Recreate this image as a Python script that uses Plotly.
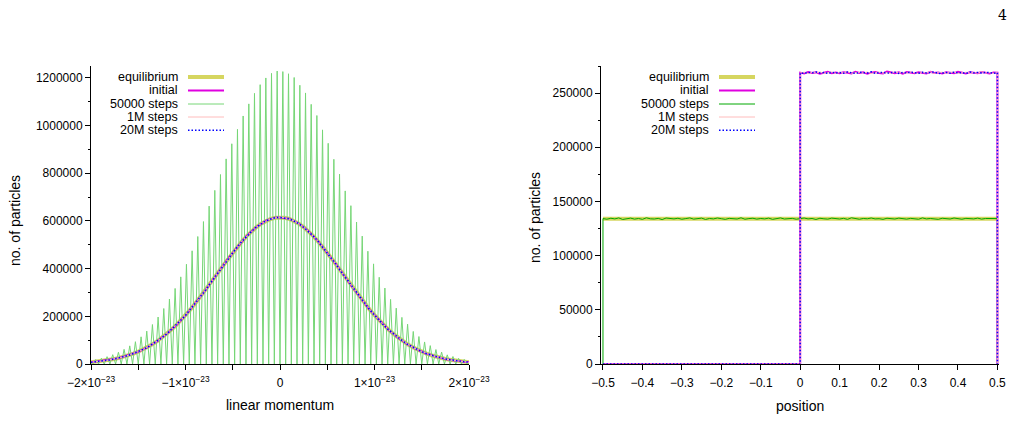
import numpy as np
import plotly.graph_objects as go

W, H = 1012, 442

# ---------------- left panel: linear momentum (x in units of 1e-23) ----------------
MOM_X = np.round(np.arange(-2.0, 2.0 + 1e-9, 0.05), 2)  # 81 bin centres

MOM_EQ = [7500, 9400, 11600, 14200, 17400, 21100, 25600, 30700, 36800, 43700, 51700, 60800, 71100, 82700,
          95700, 110200, 126100, 143500, 162400, 182800, 204600, 227800, 252200, 277700, 304100, 331100,
          358600, 386300, 413800, 440900, 467100, 492100, 515700, 537400, 557000, 574100, 588500, 600000,
          608300, 613300, 615000, 613300, 608300, 600000, 588500, 574100, 557000, 537400, 515700, 492100,
          467100, 440900, 413800, 386300, 358600, 331100, 304100, 277700, 252200, 227800, 204600, 182800,
          162400, 143500, 126100, 110200, 95700, 82700, 71100, 60800, 51700, 43700, 36800, 30700, 25600,
          21100, 17400, 14200, 11600, 9400, 7500]

MOM_INIT = [7200, 9900, 11100, 14800, 16900, 21700, 25100, 31300, 36200, 44400, 51100, 61500, 70400, 83500,
            95000, 110900, 125400, 144300, 161700, 183600, 203800, 228600, 251400, 278500, 303300, 331900,
            357800, 387100, 413000, 441700, 466300, 492900, 514900, 538200, 556200, 574900, 587700, 600800,
            607500, 614100, 614200, 612500, 609100, 599200, 589300, 573300, 557800, 536600, 516500, 491300,
            467900, 440100, 414600, 385500, 359400, 330300, 304900, 276900, 253000, 227000, 205400, 182000,
            163200, 142700, 126900, 109400, 96500, 81900, 71900, 60000, 52500, 42900, 37600, 29900, 26400,
            20300, 18200, 13400, 12400, 8600, 8300]

MOM_1M = [7700, 9100, 12000, 13900, 17800, 20800, 25900, 30400, 37100, 43300, 52100, 60400, 71500, 82300,
          96100, 109800, 126600, 143000, 162900, 182300, 205100, 227300, 252700, 277200, 304600, 330600,
          359100, 385800, 414300, 440400, 467600, 491600, 516200, 536900, 557500, 573600, 589000, 599500,
          608800, 612800, 615500, 613800, 607800, 600500, 588000, 574600, 556500, 537900, 515200, 492600,
          466600, 441400, 413300, 386800, 358100, 331600, 303600, 278200, 251700, 228300, 204100, 183300,
          161900, 144000, 125600, 110700, 95200, 83200, 70600, 61300, 51200, 44200, 36300, 31200, 25100,
          21600, 16900, 14700, 11100, 9900, 7000]

MOM_20M = [7400, 9600, 11400, 14500, 17100, 21400, 25400, 31000, 36500, 44000, 51400, 61100, 70800, 83100,
           95400, 110500, 125800, 143900, 162100, 183200, 204200, 228200, 251800, 278100, 303700, 331500,
           358200, 386700, 413400, 441300, 466700, 492500, 515300, 537800, 556600, 574500, 588100, 600400,
           607900, 613700, 614600, 612900, 608700, 599600, 588900, 573700, 557400, 537000, 516100, 491700,
           467500, 440500, 414200, 385900, 359000, 330700, 304500, 277300, 252600, 227400, 205000, 182400,
           162800, 143100, 126500, 109800, 96100, 82300, 71500, 60400, 52100, 43300, 37100, 30400, 25900,
           20800, 17800, 13900, 12000, 9100, 7700]

# after 50000 steps only every other momentum bin is populated: occupied bins and their counts
MOM_50K_PEAK_X = np.round(np.arange(-1.95, 1.95 + 1e-9, 0.06), 2)  # 66 occupied bins
MOM_50K_PEAKS = [18700, 24100, 30800, 39100, 49200, 61500, 76100, 93600, 114000, 137900, 165500, 197000,
                 232700, 272600, 316900, 365500, 418300, 474800, 534700, 597400, 662300, 728300, 794700,
                 860300, 923800, 984300, 1040400, 1091100, 1135200, 1171700, 1199900, 1219100, 1228800,
                 1226500, 1217400, 1201800, 1169300, 1137000, 1089200, 1042300, 982100, 925700, 858600,
                 796300, 726100, 664100, 595600, 536400, 473100, 420000, 363800, 318500, 271000, 234300,
                 195500, 167000, 136500, 115200, 92500, 77000, 60600, 50000, 38400, 31400, 23600, 19100]
MOM_HALF_BIN = 0.03

# ---------------- right panel: position ----------------
POS_X = np.round(np.linspace(-0.5, 0.5, 101), 3)
POS_TOP_X = np.round(np.linspace(0.0, 0.5, 51), 3)
POS_EQ_LEVEL = 134000

POS_50K = [134200, 133600, 134500, 133900, 134800, 133400, 134100, 134600, 133700, 134300,
           133500, 134900, 134000, 133800, 134400, 133300, 134700, 134100, 133900, 134500,
           133600, 134200, 134800, 133700, 134000, 134600, 133400, 134300, 133900, 134700,
           134100, 133500, 134400, 134000, 133800, 134900, 133600, 134200, 134500, 133700,
           134300, 133900, 134600, 133500, 134100, 134800, 133800, 134000, 134400, 133600,
           134200, 134700, 133900, 134300, 133400, 134500, 134000, 133700, 134600, 134100,
           133800, 134400, 133500, 134900, 134200, 133600, 134300, 134000, 134700, 133900,
           134100, 133500, 134500, 134200, 133800, 134600, 134000, 133700, 134400, 134100,
           133600, 134800, 133900, 134300, 134000, 133500, 134500, 134200, 133800, 134700,
           134100, 133600, 134400, 134000, 133900, 134600, 133700, 134300, 134100, 133800, 134200]

POS_INIT = [268900, 268200, 269500, 268600, 269100, 267900, 268800, 269700, 268400, 269000,
            268300, 269300, 268700, 268100, 269600, 268500, 269200, 268000, 268900, 269400,
            268600, 268200, 269800, 268800, 268400, 269100, 268000, 269500, 268700, 268300,
            269200, 268900, 268100, 269600, 268500, 269000, 268200, 269300, 268800, 268400,
            269700, 268600, 268100, 269200, 268900, 268300, 269400, 268700, 268000, 269100, 268800]

POS_1M = [268500, 269300, 268000, 269000, 268700, 269600, 268200, 268800, 269400, 268100,
          269100, 268600, 269800, 268300, 268900, 269200, 268400, 269500, 268100, 268700,
          269300, 268500, 268900, 268200, 269700, 268600, 269000, 268300, 269400, 268800,
          268000, 269100, 268500, 269600, 268200, 268900, 269300, 268400, 268700, 269500,
          268100, 268800, 269200, 268600, 269000, 268300, 269700, 268500, 268900, 268200, 269000]

POS_20M = [268700, 268300, 269100, 268800, 269400, 268500, 268900, 268200, 269300, 268600,
           269000, 268400, 269500, 268700, 268100, 269200, 268800, 268500, 269600, 268300,
           268900, 269100, 268400, 268700, 269300, 268200, 269000, 268600, 269400, 268800,
           268300, 269200, 268500, 268900, 269500, 268100, 268700, 269100, 268400, 269300,
           268600, 268900, 268200, 269400, 268700, 269000, 268500, 269200, 268800, 268300, 268900]

SERIES = ["equilibrium", "initial", "50000 steps", "1M steps", "20M steps"]

C_EQ = "rgb(214,214,96)"
C_INIT = "rgb(224,0,224)"
C_50K_L = "rgb(118,214,118)"
C_50K_R = "rgb(0,168,0)"
C_1M = "rgb(255,188,188)"
C_20M = "rgb(0,0,255)"
DOT = "1.5px,2px"
FONT = "Liberation Sans, Arial, Helvetica, sans-serif"

fig = go.Figure()

# ---- left traces ----
mx = MOM_X * 1e-23
fig.add_trace(go.Scatter(x=mx, y=MOM_EQ, mode="lines", line=dict(color=C_EQ, width=4),
                         xaxis="x", yaxis="y", showlegend=False))
fig.add_trace(go.Scatter(x=mx, y=MOM_INIT, mode="lines", line=dict(color=C_INIT, width=2),
                         xaxis="x", yaxis="y", showlegend=False))
gx, gy = [-2.0], [0]
for px, pv in zip(MOM_50K_PEAK_X, MOM_50K_PEAKS):
    gx += [px - MOM_HALF_BIN, px]
    gy += [0, pv]
gx += [MOM_50K_PEAK_X[-1] + MOM_HALF_BIN, 2.0]
gy += [0, 0]
fig.add_trace(go.Scatter(x=np.array(gx) * 1e-23, y=gy, mode="lines", line=dict(color=C_50K_L, width=1),
                         xaxis="x", yaxis="y", showlegend=False))
fig.add_trace(go.Scatter(x=mx, y=MOM_1M, mode="lines", line=dict(color=C_1M, width=1),
                         xaxis="x", yaxis="y", showlegend=False))
fig.add_trace(go.Scatter(x=mx, y=MOM_20M, mode="lines", line=dict(color=C_20M, width=1.5, dash=DOT),
                         xaxis="x", yaxis="y", showlegend=False))

# ---- right traces ----
fig.add_trace(go.Scatter(x=[POS_X[0], POS_X[-1]], y=[POS_EQ_LEVEL, POS_EQ_LEVEL], mode="lines",
                         line=dict(color=C_EQ, width=4), xaxis="x2", yaxis="y2", showlegend=False))
top_x = [POS_X[0], POS_TOP_X[0]] + list(POS_TOP_X) + [POS_TOP_X[-1]]
fig.add_trace(go.Scatter(x=top_x, y=[0, 0] + POS_INIT + [0], mode="lines",
                         line=dict(color=C_INIT, width=2), xaxis="x2", yaxis="y2", showlegend=False))
fig.add_trace(go.Scatter(x=[POS_X[0]] + list(POS_X) + [POS_X[-1]], y=[0] + POS_50K + [0], mode="lines",
                         line=dict(color=C_50K_R, width=1), xaxis="x2", yaxis="y2", showlegend=False))
fig.add_trace(go.Scatter(x=top_x, y=[0, 0] + POS_1M + [0], mode="lines",
                         line=dict(color=C_1M, width=1), xaxis="x2", yaxis="y2", showlegend=False))
fig.add_trace(go.Scatter(x=top_x, y=[0, 0] + POS_20M + [0], mode="lines",
                         line=dict(color=C_20M, width=1.5, dash=DOT), xaxis="x2", yaxis="y2", showlegend=False))


def px_x(v):
    return v / W


def px_y(v):
    return 1 - v / H


axis_common = dict(showline=True, linecolor="black", linewidth=1, ticks="outside", ticklen=5,
                   tickcolor="black", tickwidth=1, showgrid=False, zeroline=False, mirror=False,
                   automargin=False, tickfont=dict(family=FONT, size=12, color="black"))

mom_major = [-2, -1, 0, 1, 2]
mom_minor = [-1.5, -0.5, 0.5, 1.5]
mom_text = ["\u22122\u00d710<sup>\u221223</sup>", "\u22121\u00d710<sup>\u221223</sup>", "0",
            "1\u00d710<sup>\u221223</sup>", "2\u00d710<sup>\u221223</sup>"]
ly_ticks = [0, 200000, 400000, 600000, 800000, 1000000, 1200000]
ry_ticks = [0, 50000, 100000, 150000, 200000, 250000]
rx_ticks = [-0.5, -0.4, -0.3, -0.2, -0.1, 0, 0.1, 0.2, 0.3, 0.4, 0.5]
rx_text = ["\u22120.5", "\u22120.4", "\u22120.3", "\u22120.2", "\u22120.1", "0", "0.1", "0.2", "0.3", "0.4", "0.5"]

Y0, Y1 = px_y(364), px_y(66)

fig.update_layout(
    width=W, height=H, margin=dict(l=0, r=0, t=0, b=0, autoexpand=False),
    paper_bgcolor="white", plot_bgcolor="white", showlegend=False,
    xaxis=dict(axis_common, domain=[px_x(91), px_x(469)], range=[-2e-23, 2e-23],
               tickvals=[t * 1e-23 for t in mom_major], ticktext=mom_text, anchor="y",
               ticklabelstandoff=3,
               minor=dict(tickvals=[t * 1e-23 for t in mom_minor], ticks="outside", ticklen=5,
                          tickcolor="black")),
    yaxis=dict(axis_common, domain=[Y0, Y1], range=[0, 1250000], tickvals=ly_ticks,
               ticktext=[str(v) for v in ly_ticks], anchor="x",
               minor=dict(dtick=100000, ticks="outside", ticklen=2, tickcolor="black")),
    xaxis2=dict(axis_common, domain=[px_x(601), px_x(999)], range=[-0.505, 0.504],
                tickvals=rx_ticks, ticktext=rx_text, anchor="y2", ticklabelstandoff=3),
    yaxis2=dict(axis_common, domain=[Y0, Y1], range=[0, 275000], tickvals=ry_ticks,
                ticktext=[str(v) for v in ry_ticks], anchor="x2",
                minor=dict(dtick=25000, ticks="outside", ticklen=2, tickcolor="black")),
)

ann = []
shapes = []
tf = dict(family=FONT, size=14, color="black")
ann.append(dict(text="linear momentum", x=px_x(280), y=px_y(405), xref="paper", yref="paper",
                showarrow=False, font=tf, xanchor="center", yanchor="middle"))
ann.append(dict(text="position", x=px_x(800), y=px_y(406), xref="paper", yref="paper",
                showarrow=False, font=tf, xanchor="center", yanchor="middle"))
ann.append(dict(text="no. of particles", x=px_x(15), y=px_y(221), xref="paper", yref="paper",
                showarrow=False, font=tf, textangle=-90, xanchor="center", yanchor="middle"))
ann.append(dict(text="no. of particles", x=px_x(535), y=px_y(218), xref="paper", yref="paper",
                showarrow=False, font=tf, textangle=-90, xanchor="center", yanchor="middle"))
ann.append(dict(text="4", x=px_x(1002), y=px_y(15), xref="paper", yref="paper", showarrow=False,
                font=dict(family="DejaVu Serif, Liberation Serif, serif", size=14, color="black"),
                xanchor="center", yanchor="middle"))

rows = [77, 90.5, 104, 117, 130.3]
styles_l = [(C_EQ, 4, "solid"), (C_INIT, 2, "solid"), (C_50K_L, 1, "solid"), (C_1M, 1, "solid"),
            (C_20M, 1.5, DOT)]
styles_r = [(C_EQ, 4, "solid"), (C_INIT, 2, "solid"), (C_50K_R, 1, "solid"), (C_1M, 1, "solid"),
            (C_20M, 1.5, DOT)]
for (text_r, l0, l1, styles) in [(180, 188, 224, styles_l), (711, 719, 755, styles_r)]:
    for name, ry, (c, w, d) in zip(SERIES, rows, styles):
        ann.append(dict(text=name, x=px_x(text_r), y=px_y(ry), xref="paper", yref="paper",
                        showarrow=False, font=dict(family=FONT, size=12.5, color="black"),
                        xanchor="right", yanchor="middle"))
        shapes.append(dict(type="line", xref="paper", yref="paper", x0=px_x(l0), x1=px_x(l1),
                           y0=px_y(ry), y1=px_y(ry), line=dict(color=c, width=w, dash=d)))

fig.update_layout(annotations=ann, shapes=shapes)
fig.write_html("out.html")
